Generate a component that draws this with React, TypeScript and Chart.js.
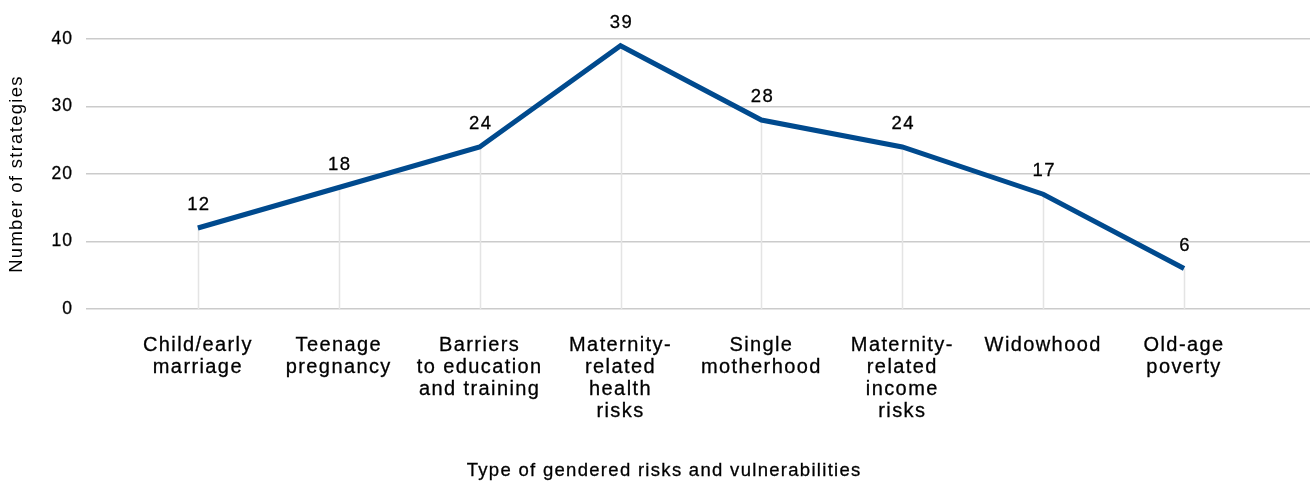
import { useEffect, useRef } from "react";
import { Chart, registerables } from "chart.js";

Chart.register(...registerables);

// Risk categories (multi-line axis labels)
const categories: string[][] = [
  ["Child/early", "marriage"],
  ["Teenage", "pregnancy"],
  ["Barriers", "to education", "and training"],
  ["Maternity-", "related", "health", "risks"],
  ["Single", "motherhood"],
  ["Maternity-", "related", "income", "risks"],
  ["Widowhood"],
  ["Old-age", "poverty"],
];

// Number of strategies addressing each risk
const strategyCounts: number[] = [12, 18, 24, 39, 28, 24, 17, 6];

// Value axis ticks
const yTicks: number[] = [0, 10, 20, 30, 40];

const xAxisTitle = "Type of gendered risks and vulnerabilities";
const yAxisTitle = "Number of strategies";

const FONT = '"Liberation Sans", Arial, Helvetica, sans-serif';
const INK = "#000000";
const LINE_BLUE = "#004A8E";
const GRID = "#cbcbcb";
const DROP = "#e4e4e4";

// Slightly tracked text, a little wider on the category labels
const trackingPlugin = {
  id: "tracking",
  beforeDraw(chart: any) {
    chart.ctx.letterSpacing = "1.3px";
    const xs = chart.scales.x;
    if (xs && !xs.__tracked) {
      const orig = xs.drawLabels.bind(xs);
      xs.drawLabels = (area: any) => {
        const c = chart.ctx;
        const prev = c.letterSpacing;
        c.letterSpacing = "1.4px";
        orig(area);
        c.letterSpacing = prev;
      };
      xs.__tracked = true;
    }
    const ys = chart.scales.y;
    if (ys && !ys.__tracked) {
      const orig = ys.drawLabels.bind(ys);
      ys.drawLabels = (area: any) => {
        const c = chart.ctx;
        const prev = c.letterSpacing;
        c.letterSpacing = "1px";
        orig(area);
        c.letterSpacing = prev;
      };
      ys.__tracked = true;
    }
  },
};

function drawText(ctx: any, text: string, x: number, y: number) {
  ctx.fillText(text, x, y);
  ctx.strokeText(text, x, y);
}

// Faint drop lines from each point to the baseline, value labels and the
// category-axis caption
const pointDecorPlugin = {
  id: "pointDecor",
  beforeDatasetsDraw(chart: any) {
    const { ctx } = chart;
    const meta = chart.getDatasetMeta(0);
    const base = chart.scales.y.getPixelForValue(0);
    ctx.save();
    ctx.strokeStyle = DROP;
    ctx.lineWidth = 1.5;
    ctx.beginPath();
    meta.data.forEach((pt: any) => {
      ctx.moveTo(Math.round(pt.x) + 0.5, pt.y);
      ctx.lineTo(Math.round(pt.x) + 0.5, base);
    });
    ctx.stroke();
    ctx.restore();
  },
  afterDatasetsDraw(chart: any) {
    const { ctx } = chart;
    const meta = chart.getDatasetMeta(0);
    ctx.save();
    ctx.letterSpacing = "1.4px";
    ctx.font = `18.5px ${FONT}`;
    ctx.fillStyle = INK;
    ctx.strokeStyle = INK;
    ctx.lineWidth = 0.3;
    ctx.textAlign = "center";
    ctx.textBaseline = "alphabetic";
    meta.data.forEach((pt: any, i: number) => {
      drawText(ctx, String(strategyCounts[i]), pt.x + 1, pt.y - 18);
    });
    ctx.restore();
  },
  afterDraw(chart: any) {
    const { ctx } = chart;
    ctx.save();
    ctx.letterSpacing = "1.3px";
    ctx.font = `18.5px ${FONT}`;
    ctx.fillStyle = INK;
    ctx.strokeStyle = INK;
    ctx.lineWidth = 0.3;
    ctx.textAlign = "center";
    ctx.textBaseline = "alphabetic";
    drawText(ctx, xAxisTitle, chart.width * 0.507, chart.height - 5);
    ctx.restore();
  },
};

export default function App() {
  const canvasRef = useRef<HTMLCanvasElement | null>(null);

  useEffect(() => {
    document.body.style.margin = "0";
    const canvas = canvasRef.current;
    if (!canvas) return;

    const chart = new Chart(canvas, {
      type: "line",
      data: {
        datasets: [
          {
            data: strategyCounts.map((v, i) => ({ x: i, y: v })),
            borderColor: LINE_BLUE,
            borderWidth: 5,
            borderJoinStyle: "miter",
            borderCapStyle: "butt",
            pointRadius: 0,
            pointHoverRadius: 0,
            fill: false,
            tension: 0,
          },
        ],
      },
      options: {
        animation: false,
        responsive: true,
        maintainAspectRatio: false,
        layout: { padding: { top: 39, left: 0, right: 0, bottom: 0 } },
        plugins: {
          legend: { display: false },
          tooltip: { enabled: false },
        },
        scales: {
          x: {
            type: "linear",
            min: -0.794,
            max: 7.894,
            afterBuildTicks: (s: any) => {
              s.ticks = categories.map((_, i) => ({ value: i }));
            },
            afterFit: (s: any) => {
              s.height = 172;
            },
            grid: { display: false, drawTicks: false },
            border: { display: false },
            ticks: {
              autoSkip: false,
              maxRotation: 0,
              minRotation: 0,
              padding: 26,
              color: INK,
              textStrokeColor: INK,
              textStrokeWidth: 0.3,
              font: { family: FONT, size: 20, lineHeight: 1.09 },
              callback: (v: any) => categories[v as number] ?? "",
            },
            title: { display: false },
          },
          y: {
            min: 0,
            max: 40,
            afterBuildTicks: (s: any) => {
              s.ticks = yTicks.map((v) => ({ value: v }));
            },
            afterFit: (s: any) => {
              s.width = 86;
            },
            grid: { color: GRID, lineWidth: 1.5, drawTicks: false },
            border: { display: false },
            ticks: {
              padding: 13,
              color: INK,
              textStrokeColor: INK,
              textStrokeWidth: 0.3,
              font: { family: FONT, size: 17.5 },
            },
            title: {
              display: true,
              text: yAxisTitle,
              color: INK,
              font: { family: FONT, size: 18.5, lineHeight: 1.2 },
              padding: { top: 6, bottom: 0 },
            },
          },
        },
      },
      plugins: [trackingPlugin, pointDecorPlugin],
    });

    return () => chart.destroy();
  }, []);

  return (
    <div style={{ position: "relative", width: 1310, height: 481 }}>
      <canvas ref={canvasRef} />
    </div>
  );
}
